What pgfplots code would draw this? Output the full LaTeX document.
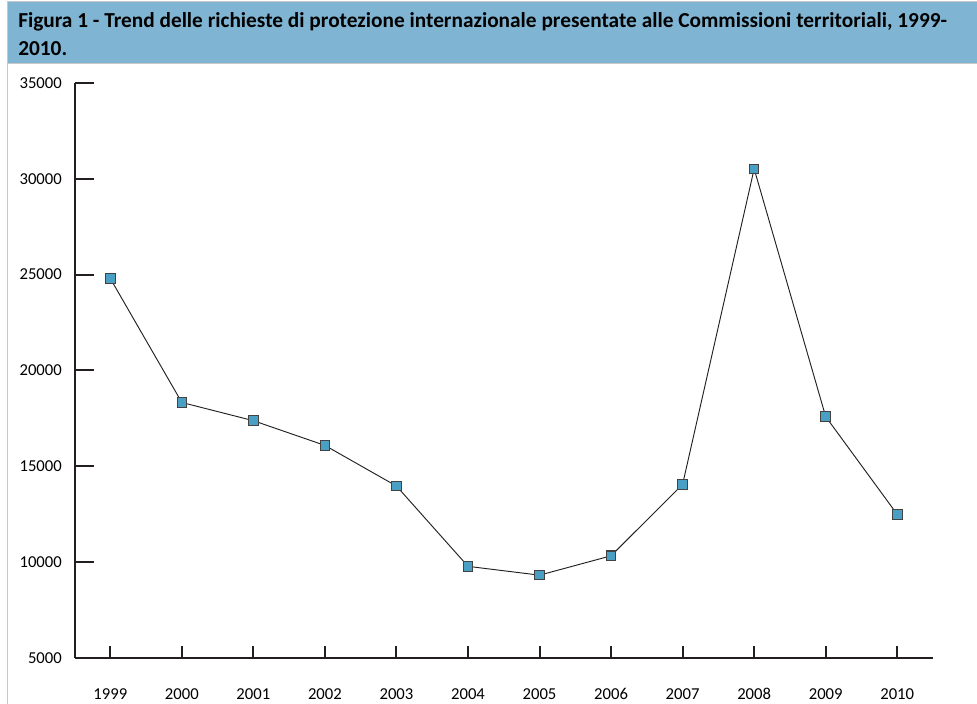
\documentclass[border=0pt]{standalone}
\usepackage{pgfplots}
\pgfplotsset{compat=1.18}
\usepackage{fontspec}
\setmainfont{Carlito}

\definecolor{titlebar}{HTML}{7FB5D3}
\definecolor{markfill}{HTML}{4A9FC5}
\definecolor{axisdark}{HTML}{231F20}
\definecolor{framegray}{HTML}{C8C8C8}

\begin{document}
\begin{tikzpicture}[x=1pt,y=1pt]
\useasboundingbox (-55.9,-34.5) rectangle (676.9,493.5);

% title bar and frame
\fill[titlebar] (-50.6,445.5) rectangle (676.9,492.0);
\draw[framegray, line width=0.75pt] (-50.6,-34.5) -- (-50.6,492.7) -- (676.9,492.7);
\draw[framegray, line width=0.75pt] (-50.6,445.5) -- (676.9,445.5);
\node[anchor=base west, inner sep=0pt,
      font=\fontsize{16}{20}\selectfont\bfseries] at (-42.4,472.5)
  {Figura 1 - Trend delle richieste di protezione internazionale presentate alle Commissioni territoriali, 1999-};
\node[anchor=base west, inner sep=0pt,
      font=\fontsize{16}{20}\selectfont\bfseries] at (-42.4,452.2)
  {2010.};

\begin{axis}[
    scale only axis,
    width=643.9pt,
    height=431.25pt,
    at={(0,0)}, anchor=south west,
    xmin=1998.5, xmax=2010.5,
    ymin=5000, ymax=35000,
    axis x line*=bottom,
    axis y line*=left,
    axis line style={axisdark, line width=1.5pt},
    xtick={1999,2000,...,2010},
    ytick={5000,10000,...,35000},
    scaled y ticks=false,
    tick align=inside,
    xtick style={axisdark, line width=1.5pt, /pgfplots/major tick length=9pt},
    ytick style={axisdark, line width=1.5pt, /pgfplots/major tick length=15pt},
    /pgf/number format/1000 sep={},
    /pgf/number format/assume math mode=true,
    tick label style={font=\fontsize{12.5}{15}\selectfont, text=black},
    xticklabel style={anchor=base, yshift=-31.5pt},
    yticklabel style={xshift=-6pt},
    clip=false,
]
\addplot[color=axisdark, line width=0.7pt, mark=square*,
         mark size=3.6pt,
         mark options={fill=markfill, draw=axisdark!85, line width=0.8pt}]
  coordinates {
    (1999,24800) (2000,18330) (2001,17380) (2002,16090) (2003,13970)
    (2004,9780) (2005,9320) (2006,10330) (2007,14060) (2008,30520)
    (2009,17590) (2010,12490)
};
\end{axis}
\end{tikzpicture}
\end{document}
